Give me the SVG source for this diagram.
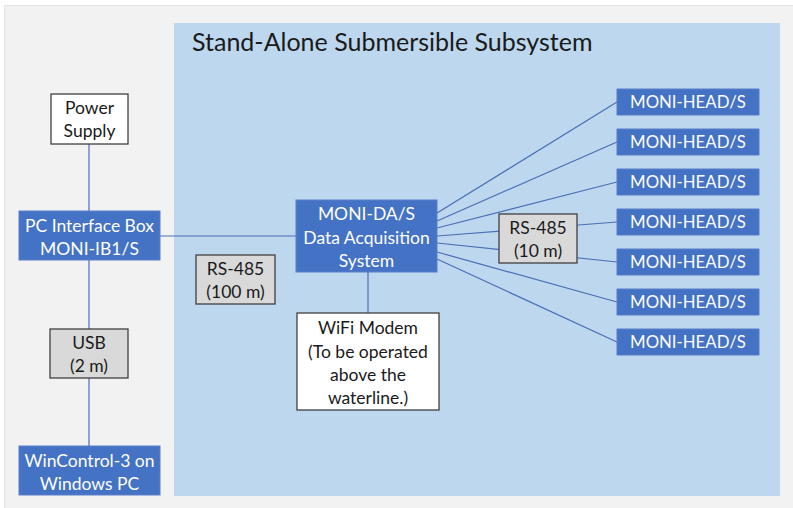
<svg xmlns="http://www.w3.org/2000/svg" width="793" height="508" viewBox="0 0 793 508">
<style>
text{font-family:Lato,"Liberation Sans",sans-serif;font-size:17.5px;text-anchor:middle}
.blue rect{fill:#4472c4;stroke:#5b7fc8;stroke-width:1}
.blue text{fill:#ffffff}
.head text{font-size:16.8px}
.white rect{fill:#ffffff;stroke:#404040;stroke-width:1.3}
.grey rect{fill:#d9d9d9;stroke:#404040;stroke-width:1.3}
.white text,.grey text{fill:#1a1a1a}
#connectors line{stroke:#4a6fb5;stroke-width:1.2}
</style>
<rect x="0" y="0" width="793" height="508" fill="#ffffff"/>
<rect x="4.5" y="5.5" width="800" height="510" fill="#f2f2f2" stroke="#e3e3e3" stroke-width="1"/>
<g id="subsystem">
<rect x="174" y="23" width="606" height="473" fill="#bdd7ee"/>
<text x="192" y="51" style="text-anchor:start;font-size:25px;fill:#1a1a1a">Stand-Alone Submersible Subsystem</text>
</g>
<g id="connectors">
<line x1="89" y1="144" x2="89" y2="211"/>
<line x1="89" y1="260" x2="89" y2="329"/>
<line x1="89" y1="378" x2="89" y2="446"/>
<line x1="160" y1="236" x2="296" y2="236"/>
<line x1="368" y1="272" x2="368" y2="313"/>
<line x1="437" y1="213" x2="617" y2="102"/>
<line x1="437" y1="221" x2="617" y2="142"/>
<line x1="437" y1="228" x2="617" y2="182"/>
<line x1="437" y1="236" x2="617" y2="222"/>
<line x1="437" y1="243" x2="617" y2="262"/>
<line x1="437" y1="252" x2="617" y2="302"/>
<line x1="437" y1="259" x2="617" y2="342"/>
</g>
<g id="power-supply" class="white">
<rect x="51" y="94" width="77" height="50"/>
<text x="89.5" y="114">Power</text>
<text x="89.5" y="137">Supply</text>
</g>
<g id="pc-interface-box" class="blue">
<rect x="19" y="211" width="141" height="49"/>
<text x="89.5" y="232">PC Interface Box</text>
<text x="89.5" y="255">MONI-IB1/S</text>
</g>
<g id="usb" class="grey">
<rect x="50" y="329" width="78" height="49"/>
<text x="89" y="349">USB</text>
<text x="89" y="372">(2 m)</text>
</g>
<g id="wincontrol" class="blue">
<rect x="19" y="446" width="141" height="49"/>
<text x="89.5" y="467">WinControl-3 on</text>
<text x="89.5" y="490">Windows PC</text>
</g>
<g id="rs485-100" class="grey">
<rect x="196" y="255" width="79" height="49"/>
<text x="235.5" y="275">RS-485</text>
<text x="235.5" y="298">(100 m)</text>
</g>
<g id="moni-das" class="blue">
<rect x="296" y="200" width="141" height="72"/>
<text x="366.5" y="220">MONI-DA/S</text>
<text x="366.5" y="244">Data Acquisition</text>
<text x="366.5" y="267">System</text>
</g>
<g id="wifi-modem" class="white">
<rect x="297" y="313" width="142" height="97"/>
<text x="368" y="334">WiFi Modem</text>
<text x="368" y="358">(To be operated</text>
<text x="368" y="381">above the</text>
<text x="368" y="404">waterline.)</text>
</g>
<g id="rs485-10" class="grey">
<rect x="499" y="214" width="78" height="49"/>
<text x="538" y="234">RS-485</text>
<text x="538" y="257">(10 m)</text>
</g>
<g id="head1" class="blue head"><rect x="617" y="89" width="142" height="26"/><text x="688" y="108">MONI-HEAD/S</text></g>
<g id="head2" class="blue head"><rect x="617" y="129" width="142" height="26"/><text x="688" y="148">MONI-HEAD/S</text></g>
<g id="head3" class="blue head"><rect x="617" y="169" width="142" height="26"/><text x="688" y="188">MONI-HEAD/S</text></g>
<g id="head4" class="blue head"><rect x="617" y="209" width="142" height="26"/><text x="688" y="228">MONI-HEAD/S</text></g>
<g id="head5" class="blue head"><rect x="617" y="249" width="142" height="26"/><text x="688" y="268">MONI-HEAD/S</text></g>
<g id="head6" class="blue head"><rect x="617" y="289" width="142" height="26"/><text x="688" y="308">MONI-HEAD/S</text></g>
<g id="head7" class="blue head"><rect x="617" y="329" width="142" height="26"/><text x="688" y="348">MONI-HEAD/S</text></g>
</svg>
